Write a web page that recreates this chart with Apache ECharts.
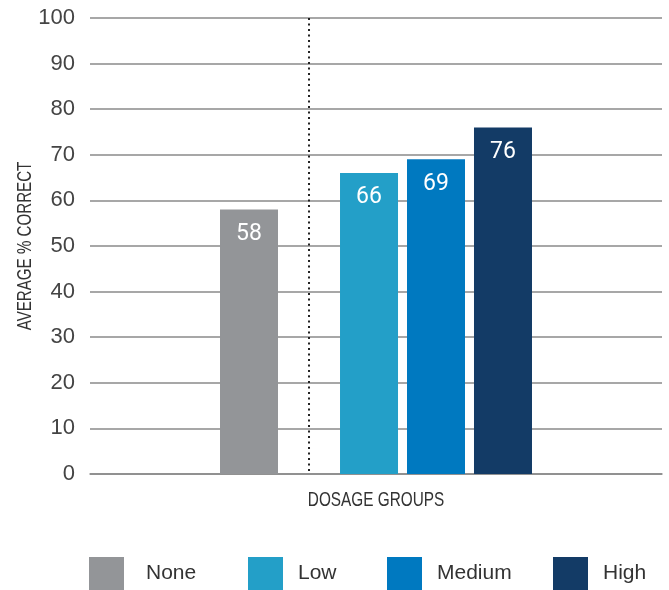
<!DOCTYPE html>
<html><head><meta charset="utf-8">
<script src="https://cdn.jsdelivr.net/npm/echarts@6/dist/echarts.min.js"></script>
<style>html,body{margin:0;padding:0;background:#fff}#c{width:669px;height:590px}</style>
</head><body><div id="c"></div>
<script>
const categories = ['DOSAGE GROUPS'];
const groupNames = ['None', 'Low', 'Medium', 'High'];
const groupValues = [58, 66, 69, 76];
const groupColors = ['#939598', '#239fc8', '#0079c0', '#133b66'];
const yAxisTitle = 'AVERAGE % CORRECT';
const yMin = 0, yMax = 100, yInterval = 10;

const sans = 'Liberation Sans, sans-serif';
const chart = echarts.init(document.getElementById('c'));

function barSeries(i) {
  return {
    name: groupNames[i], type: 'bar', barWidth: 58, barGap: '15.5%',
    data: [groupValues[i]],
    itemStyle: { color: groupColors[i] },
    label: { show: true, position: 'insideTop', distance: 13, color: '#fff',
      fontFamily: 'Roboto', fontSize: 23, formatter: '{c}' }
  };
}
const series = [
  barSeries(0),
  { name: 'spacer', type: 'bar', barWidth: 45.9, barGap: '15.5%', data: ['-'], silent: true },
  barSeries(1), barSeries(2), barSeries(3)
];

const legendLefts = [89, 248, 387, 553];
const legends = groupNames.map((n, i) => ({
  data: [n], left: legendLefts[i], top: 557, padding: 0,
  itemWidth: 35, itemHeight: 33, icon: 'rect',
  textStyle: { fontFamily: sans, fontSize: 21, color: '#333',
    padding: [0, 0, 0, i === 0 ? 17 : 10] }
}));

chart.setOption({
  animation: false,
  grid: { left: 90, right: 7, top: 18, bottom: 116, containLabel: false },
  legend: legends,
  xAxis: {
    type: 'category', data: categories,
    axisTick: { show: false },
    axisLine: { lineStyle: { color: '#8a8a8a', width: 1.5 } },
    axisLabel: { show: false }
  },
  yAxis: {
    type: 'value', min: yMin, max: yMax, interval: yInterval,
    axisLine: { show: false }, axisTick: { show: false },
    axisLabel: { margin: 15, fontFamily: sans, fontSize: 22, color: '#444' },
    splitLine: { lineStyle: { color: '#8a8a8a', width: 1.5 } }
  },
  series: series
});

// positions derived from the library's own layout
const lNone = chart.getModel().getSeriesByIndex(0).getData().getItemLayout(0);
const lLow = chart.getModel().getSeriesByIndex(2).getData().getItemLayout(0);
const xMid = (lNone.x + lNone.width + lLow.x) / 2;
const yTop = chart.convertToPixel({ yAxisIndex: 0 }, yMax);
const yBot = chart.convertToPixel({ yAxisIndex: 0 }, yMin);
const xCat = chart.convertToPixel({ xAxisIndex: 0 }, categories[0]);
chart.setOption({
  graphic: [
    { type: 'line', shape: { x1: xMid, y1: yTop, x2: xMid, y2: yBot },
      style: { stroke: '#222', lineWidth: 2, lineDash: [2, 3.5] }, z: 1 },
    // condensed-looking axis titles (no condensed font installed)
    { type: 'text', x: xCat, y: yBot + 26, scaleX: 0.73,
      style: { text: categories[0], font: '21px ' + sans, fill: '#333',
        align: 'center', verticalAlign: 'middle' } },
    { type: 'text', x: 25, y: (yTop + yBot) / 2, rotation: Math.PI / 2, scaleX: 0.72,
      style: { text: yAxisTitle, font: '21px ' + sans, fill: '#333',
        align: 'center', verticalAlign: 'middle' } }
  ]
});
</script></body></html>
